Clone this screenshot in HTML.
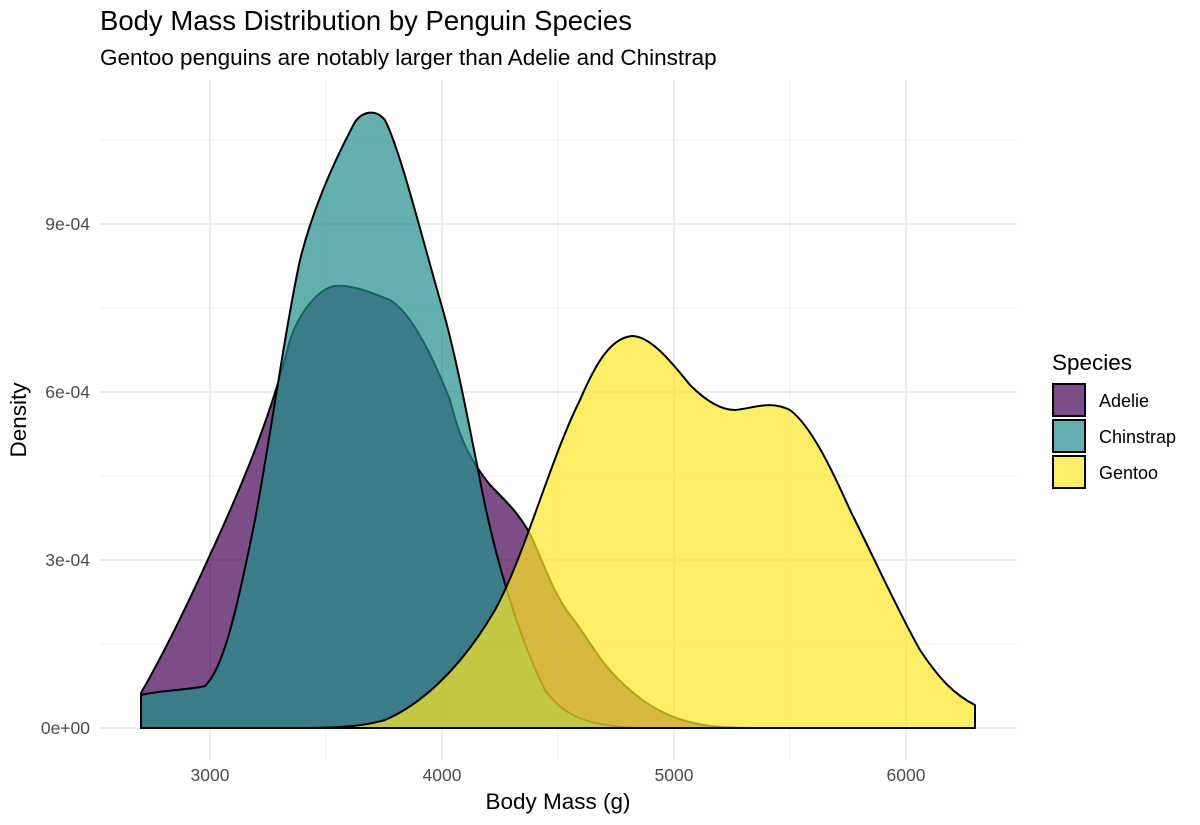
<!DOCTYPE html>
<html><head><meta charset="utf-8"><style>
body{margin:0;background:#fff;}
svg{display:block;font-family:"Liberation Sans",sans-serif;}
</style></head><body>
<svg width="1200" height="825" viewBox="0 0 1200 825" xmlns="http://www.w3.org/2000/svg">
<rect width="1200" height="825" fill="#fff"/>
<g stroke="#f0f0f0" stroke-width="1">
<line x1="100" x2="1017" y1="644" y2="644"/><line x1="100" x2="1017" y1="476" y2="476"/>
<line x1="100" x2="1017" y1="308" y2="308"/><line x1="100" x2="1017" y1="140" y2="140"/>
<line x1="326" x2="326" y1="80" y2="760"/><line x1="558" x2="558" y1="80" y2="760"/><line x1="790" x2="790" y1="80" y2="760"/>
</g>
<g stroke="#ebebeb" stroke-width="2">
<line x1="100" x2="1017" y1="728" y2="728"/><line x1="100" x2="1017" y1="560" y2="560"/>
<line x1="100" x2="1017" y1="392" y2="392"/><line x1="100" x2="1017" y1="224" y2="224"/>
<line x1="210" x2="210" y1="80" y2="760"/><line x1="442" x2="442" y1="80" y2="760"/>
<line x1="674" x2="674" y1="80" y2="760"/><line x1="906" x2="906" y1="80" y2="760"/>
</g>
<g stroke="#000" stroke-width="2" stroke-linejoin="round">
<path fill="#440154" fill-opacity="0.7" d="M141,728 L141,693 C160,660 185,610 210,555 C240,490 270,420 290,340 C300,310 320,288 335,286 C350,284 370,292 390,300 C410,312 430,350 450,400 C460,440 470,460 490,485 C510,505 525,520 535,545 C548,575 555,595 570,615 C590,640 600,665 630,690 C655,712 680,722 710,726 C730,728 745,728 760,728 Z"/>
<path fill="#21908C" fill-opacity="0.7" d="M141,728 L141,695 C160,690 190,690 205,686 C222,670 235,620 255,520 C270,440 285,330 300,260 C315,200 340,150 355,122 C362,112 375,108 385,120 C400,150 420,230 440,300 C455,350 468,420 480,480 C495,560 520,640 545,690 C565,718 590,726 640,728 Z"/>
<path fill="#FDE725" fill-opacity="0.7" d="M141,728 L300,728 C340,728 365,726 385,720 C420,705 460,670 495,610 C525,555 550,460 580,400 C595,365 610,338 632,336 C650,336 670,360 690,385 C705,400 720,410 735,410 C755,408 770,400 790,410 C810,425 830,465 850,510 C875,560 900,615 920,650 C940,680 955,695 975,705 L975,728 Z"/>
</g>
<g font-size="17.5" fill="#4d4d4d" text-anchor="end">
<text x="90" y="734">0e+00</text><text x="90" y="566">3e-04</text>
<text x="90" y="398">6e-04</text><text x="90" y="230">9e-04</text>
</g>
<g font-size="17.5" fill="#4d4d4d" text-anchor="middle">
<text x="210" y="781">3000</text><text x="442" y="781">4000</text>
<text x="674" y="781">5000</text><text x="906" y="781">6000</text>
</g>
<text x="558" y="809" font-size="22.5" text-anchor="middle" fill="#000">Body Mass (g)</text>
<text transform="translate(26,420) rotate(-90)" font-size="22.5" text-anchor="middle" fill="#000">Density</text>
<text x="100" y="30" font-size="27.5" fill="#000">Body Mass Distribution by Penguin Species</text>
<text x="100" y="65" font-size="22.5" fill="#000">Gentoo penguins are notably larger than Adelie and Chinstrap</text>
<text x="1052" y="370" font-size="22.5" fill="#000">Species</text>
<g stroke="#000" stroke-width="2">
<rect x="1053" y="384" width="32" height="32" fill="#440154" fill-opacity="0.7"/>
<rect x="1053" y="420" width="32" height="32" fill="#21908C" fill-opacity="0.7"/>
<rect x="1053" y="456" width="32" height="32" fill="#FDE725" fill-opacity="0.7"/>
</g>
<g font-size="18" fill="#000">
<text x="1099" y="407">Adelie</text><text x="1099" y="443">Chinstrap</text><text x="1099" y="479">Gentoo</text>
</g>
</svg>
</body></html>
